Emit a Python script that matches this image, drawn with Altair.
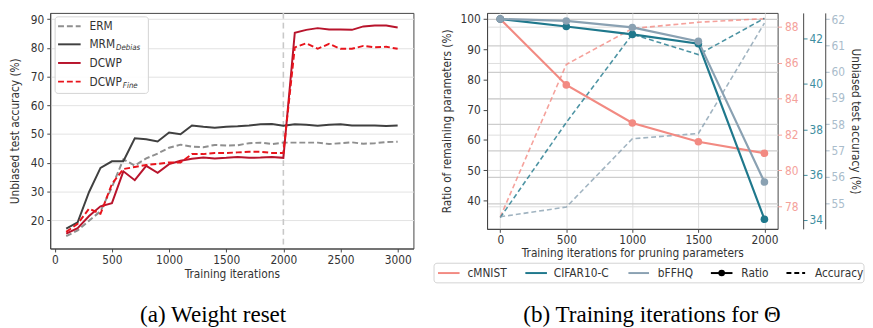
import altair as alt
import pandas as pd

FONT = "DejaVu Sans Condensed, DejaVu Sans"
SERIF = "Liberation Serif, Times New Roman, serif"

# ---------------- Panel (a): Weight reset ----------------
iters_a = [100, 200, 300, 400, 500, 600, 700, 800, 900, 1000,
           1100, 1200, 1300, 1400, 1500, 1600, 1700, 1800, 1900, 2000,
           2100, 2200, 2300, 2400, 2500, 2600, 2700, 2800, 2900, 3000]
erm = [14.4, 16.4, 19.8, 23.1, 31.5, 41.2, 39.0, 41.5, 43.2, 45.2,
       46.3, 45.6, 45.4, 46.2, 46.0, 46.1, 46.8, 47.0, 46.5, 47.0,
       47.0, 47.0, 47.0, 46.5, 46.8, 47.1, 46.6, 46.8, 47.2, 47.3]
mrm = [17.0, 19.2, 29.8, 38.2, 40.5, 40.5, 48.5, 48.2, 47.4, 50.5,
       49.9, 53.0, 52.5, 52.2, 52.5, 52.7, 53.0, 53.4, 53.5, 52.9,
       53.4, 53.2, 52.9, 53.2, 53.4, 53.0, 53.0, 53.0, 52.8, 53.0]
dcwp = [15.3, 17.2, 21.4, 24.8, 25.9, 37.0, 33.9, 38.9, 36.5, 39.5,
        40.7, 41.4, 41.8, 41.5, 41.7, 42.0, 41.7, 41.8, 42.0, 41.7,
        85.3, 86.3, 86.9, 86.4, 86.4, 86.3, 87.5, 87.8, 87.8, 87.1]
dcwp_fine = [15.9, 18.7, 24.0, 22.2, 32.6, 37.8, 38.5, 39.2, 39.6, 40.1,
             40.1, 43.0, 43.0, 43.4, 43.4, 43.6, 43.8, 43.8, 43.4, 43.4,
             80.2, 81.6, 79.7, 81.4, 79.7, 79.7, 80.7, 80.2, 80.4, 79.7]
x_ticks_a = [0, 500, 1000, 1500, 2000, 2500, 3000]
y_ticks_a = [20, 30, 40, 50, 60, 70, 80, 90]
reset_iter = 2000

# ---------------- Panel (b): Training iterations for Theta ----------------
iters_b = [0, 500, 1000, 1500, 2000]
datasets = ["cMNIST", "CIFAR10-C", "bFFHQ"]
ratio_cmnist = [100.0, 78.2, 65.6, 59.4, 55.6]
ratio_cifar = [100.0, 97.5, 94.9, 91.8, 33.8]
ratio_bffhq = [100.0, 99.35, 97.2, 92.6, 46.1]
acc_cmnist = [77.4, 85.9, 87.9, 88.25, 88.45]
acc_cifar = [34.1, 38.3, 42.2, 41.3, 42.9]
acc_bffhq = [54.48, 54.85, 57.45, 57.65, 61.85]
ratio_ticks = [40, 50, 60, 70, 80, 90, 100]
cmnist_ticks = [78, 80, 82, 84, 86, 88]
cifar_ticks = [34, 36, 38, 40, 42]
bffhq_ticks = [55, 56, 57, 58, 59, 60, 61, 62]

C_CMNIST = "#f28a82"
C_CIFAR = "#1f788c"
C_BFFHQ = "#8aa1b2"

W_A, H_A = 370, 240
W_B, H_B = 296, 220

one = pd.DataFrame({"k": [0]})


def txt(s, x, y, size=12, style="normal", font=FONT, color="#333",
        align="left", baseline="middle"):
    return alt.Chart(one).mark_text(
        text=s, font=font, fontSize=size, fontStyle=style, color=color,
        align=align, baseline=baseline
    ).encode(x=alt.value(x), y=alt.value(y))


def seg(x1, x2, y, color, dash=None, width=2.0):
    kw = dict(color=color, strokeWidth=width)
    if dash:
        kw["strokeDash"] = dash
    return alt.Chart(one).mark_rule(**kw).encode(
        x=alt.value(x1), x2=alt.value(x2), y=alt.value(y))


def box(x1, x2, y1, y2):
    return alt.Chart(one).mark_rect(
        fill="white", fillOpacity=0.9, stroke="#d3d3d3", strokeWidth=1,
        cornerRadius=3
    ).encode(x=alt.value(x1), x2=alt.value(x2), y=alt.value(y1), y2=alt.value(y2))


# invisible anchor fixing the left edge of the layout
anchor = alt.Chart(one).mark_rect(opacity=0).encode(
    x=alt.value(-41), x2=alt.value(-40), y=alt.value(100), y2=alt.value(101))

# ---- build panel (a) ----
df_a = pd.DataFrame({"iter": iters_a, "ERM": erm, "MRM": mrm,
                     "DCWP": dcwp, "DCWP_Fine": dcwp_fine})

XDOM_A = [-40, 3138]
xa = alt.X("iter:Q", scale=alt.Scale(domain=XDOM_A, nice=False, zero=False),
           axis=alt.Axis(values=x_ticks_a, title="Training iterations",
                         labelPadding=2.5, titlePadding=4, format="d"))


def ya(field):
    return alt.Y(f"{field}:Q", scale=alt.Scale(domain=[10.1, 92.2], nice=False, zero=False),
                 axis=alt.Axis(values=y_ticks_a, grid=True, gridColor="#e2e2e2",
                               title="Unbiased test accuracy (%)", titlePadding=8.8,
                               labelPadding=3))


base_a = alt.Chart(df_a)
vline = alt.Chart(one).mark_rule(color="#c8c8c8", strokeWidth=1.6, strokeDash=[6, 4]).encode(
    x=alt.X(datum=reset_iter, scale=alt.Scale(domain=XDOM_A, nice=False, zero=False)))
l_erm = base_a.mark_line(color="#8f8f8f", strokeWidth=2, strokeDash=[6, 3]).encode(x=xa, y=ya("ERM"))
l_mrm = base_a.mark_line(color="#404040", strokeWidth=2).encode(x=xa, y=ya("MRM"))
l_dcwp = base_a.mark_line(color="#b8142c", strokeWidth=2).encode(x=xa, y=ya("DCWP"))
l_fine = base_a.mark_line(color="#e8141c", strokeWidth=2, strokeDash=[6, 3]).encode(x=xa, y=ya("DCWP_Fine"))

leg_a = [box(5, 100, 4, 82)]
leg_rows = [("ERM", "", "#8f8f8f", [6, 3], 13.5),
            ("MRM", "Debias", "#404040", None, 32.0),
            ("DCWP", "", "#b8142c", None, 51.0),
            ("DCWP", "Fine", "#e8141c", [6, 3], 70.0)]
for name, sub, col, dash, yy in leg_rows:
    leg_a.append(seg(8, 31, yy, col, dash, 2))
    leg_a.append(txt(name, 40, yy, size=12))
    if sub:
        sx = 67 if name == "MRM" else 74
        leg_a.append(txt(sub, sx, yy + 4, size=8, style="italic"))

cap_a = txt("(a) Weight reset", 166, 315, size=23.5, font=SERIF, color="black",
            align="center", baseline="alphabetic")

panel_a = alt.layer(anchor, vline, l_erm, l_mrm, l_dcwp, l_fine, *leg_a, cap_a).properties(
    width=W_A, height=H_A)

# ---- build panel (b) ----
rows = []
for d, rr, aa in [("cMNIST", ratio_cmnist, acc_cmnist),
                  ("CIFAR10-C", ratio_cifar, acc_cifar),
                  ("bFFHQ", ratio_bffhq, acc_bffhq)]:
    for it, r, a in zip(iters_b, rr, aa):
        rows.append({"iter": it, "dataset": d, "ratio": r, "acc": a})
df_b = pd.DataFrame(rows)

xb = alt.X("iter:Q", scale=alt.Scale(domain=[-100, 2100], nice=False, zero=False),
           axis=alt.Axis(values=iters_b, title="Training iterations for pruning parameters",
                         labelPadding=2, titlePadding=3, format="d"))
color_b = alt.Color("dataset:N", scale=alt.Scale(domain=datasets,
                                                 range=[C_CMNIST, C_CIFAR, C_BFFHQ]),
                    legend=None)
base_b = alt.Chart(df_b)


def acc_layer(name, domain, axis):
    return base_b.transform_filter(alt.datum.dataset == name).mark_line(
        strokeWidth=1.6, strokeDash=[5, 3], opacity=0.8
    ).encode(x=xb, y=alt.Y("acc:Q", scale=alt.Scale(domain=domain, nice=False, zero=False),
                           axis=axis), color=color_b)


ax_cm = alt.Axis(orient="right", values=cmnist_ticks, title=None, domain=False,
                 labelColor="#f4a19a", tickColor="#f4a19a", labelPadding=3, tickSize=4)
ax_ci = alt.Axis(orient="right", values=cifar_ticks, title=None, offset=26,
                 domainColor="#444", labelColor="#3d8ea1", tickColor="#3d8ea1",
                 labelPadding=2, tickSize=4)
ax_bf = alt.Axis(orient="right", values=bffhq_ticks, offset=48.5,
                 title="Unbiased test accuracy (%)", titlePadding=4,
                 domainColor="#444", labelColor="#a9bccb", tickColor="#a9bccb",
                 labelPadding=2, tickSize=4, grid=True, gridColor="#cdcdcd", gridWidth=1.3)

acc_cm = acc_layer("cMNIST", [76.74, 88.77], ax_cm)
acc_ci = acc_layer("CIFAR10-C", [33.6, 43.14], ax_ci)
acc_bf = acc_layer("bFFHQ", [54.02, 62.24], ax_bf)

ratio_l = base_b.mark_line(strokeWidth=2.2, point=alt.OverlayMarkDef(filled=True, size=60, opacity=1)).encode(
    x=xb,
    y=alt.Y("ratio:Q", scale=alt.Scale(domain=[30.6, 102.0], nice=False, zero=False),
            axis=alt.Axis(orient="left", values=ratio_ticks, title="Ratio of remaining parameters (%)",
                          titlePadding=6.4, labelPadding=3, tickSize=4)),
    color=color_b)

LY = 265
leg_b = [box(-54, 384, 255, 275),
         seg(-50, -28, LY, C_CMNIST), txt("cMNIST", -20, LY),
         seg(39, 61, LY, C_CIFAR), txt("CIFAR10-C", 68, LY),
         seg(144, 165, LY, C_BFFHQ), txt("bFFHQ", 174, LY),
         seg(228, 250, LY, "black"),
         alt.Chart(one).mark_point(filled=True, size=45, color="black", opacity=1).encode(
             x=alt.value(239), y=alt.value(LY)),
         txt("Ratio", 259, LY),
         seg(305, 324, LY, "black", [5, 3]), txt("Accuracy", 334, LY)]

cap_b = txt("(b) Training iterations for \u0398", 168, 315, size=23.5, font=SERIF,
            color="black", align="center", baseline="alphabetic")

panel_b = alt.layer(acc_cm, acc_ci, acc_bf, ratio_l, *leg_b, cap_b).resolve_scale(
    y="independent").properties(width=W_B, height=H_B)

chart = alt.hconcat(panel_a, panel_b, spacing=19).properties(padding=0).configure_view(
    stroke="#444", strokeWidth=1
).configure_axis(
    labelFont=FONT, titleFont=FONT, labelFontSize=12, titleFontSize=12,
    labelColor="#333", titleColor="#333", titleFontWeight="normal",
    tickColor="#444", domainColor="#444", tickSize=3.5
)

chart.save("out.html", embed_options={"renderer": "svg", "actions": False})
